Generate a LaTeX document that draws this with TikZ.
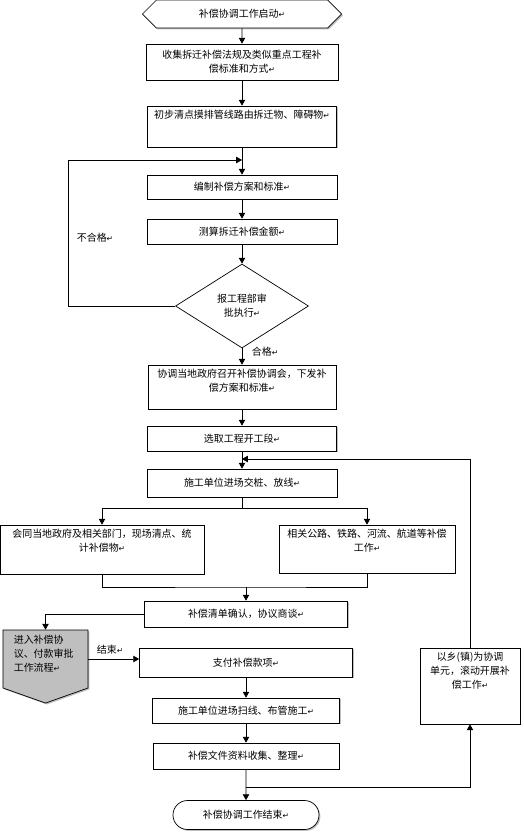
\documentclass[tikz,border=0pt]{standalone}
\usepackage{fontspec}
\newfontfamily\cjk{Noto Sans CJK SC}
\newfontfamily\symfont{DejaVu Sans}
\usetikzlibrary{shapes.geometric,shapes.misc,shapes.symbols,shadows,arrows.meta}
\newcommand\pmark{{\symfont\fontsize{6.5}{6.5}\selectfont ↵}}
\newcommand\toptext[3]{\parbox[c][#1][t]{#2}{\centering\vspace{3.5pt}#3}}

\begin{document}
\begin{tikzpicture}[
	x=0.03cm, y=-0.03cm, line width=0.6pt,
	>={Triangle[length=5pt,width=5.5pt]},
	every node/.style={ font=\cjk\fontsize{8.5}{12}\selectfont },
	box/.style={ draw, fill=white, inner sep=0pt, align=center, drop shadow={shadow xshift=1.2pt, shadow yshift=-1.2pt, fill=black!50} },
	boxh/.style={ box, signal, signal to=west and east, signal pointer angle=90 },
	boxr/.style={ box, rounded rectangle },
	boxd/.style={ draw, fill=white, diamond, inner sep=0pt, align=center },
	boxg/.style={ box, fill=black!25, signal, signal to=south, signal pointer angle=141, inner xsep=0.325cm, inner ysep=0pt }
]
\useasboundingbox (0,0) rectangle (523,834);

\node[boxh, minimum width=5.97cm, minimum height=0.84cm] at (242,14) (start) {补偿协调工作启动\pmark};
\node[box, minimum width=5.76cm, minimum height=1.08cm] at (242,62) (collect) {收集拆迁补偿法规及类似重点工程补\\偿标准和方式\pmark};
\node[box, minimum width=5.67cm] at (242,126.5) (survey) {\toptext{1.23cm}{5.6cm}{初步清点摸排管线路由拆迁物、障碍物\pmark}};
\node[box, minimum width=5.7cm, minimum height=0.72cm] at (242,187) (plan) {编制补偿方案和标准\pmark};
\node[box, minimum width=5.7cm, minimum height=0.75cm] at (242,231.5) (calc) {测算拆迁补偿金额\pmark};
\node[boxd, minimum width=3.99cm, minimum height=2.52cm] at (242,306) (audit) {报工程部审\\批执行\pmark};
\node[box, minimum width=5.64cm] at (242,387) (meeting) {\toptext{1.32cm}{5.6cm}{协调当地政府召开补偿协调会，下发补\\偿方案和标准\pmark}};
\node[box, minimum width=5.67cm, minimum height=0.75cm] at (242,438.5) (section) {选取工程开工段\pmark};
\node[box, minimum width=5.7cm, minimum height=0.84cm] at (242,483) (stake) {施工单位进场交桩、放线\pmark};

\node[box, minimum width=6.12cm] at (102,549.5) (govt) {\toptext{1.47cm}{6cm}{会同当地政府及相关部门，现场清点、统\\计补偿物\pmark}};
\node[box, minimum width=5.28cm] at (367,549) (roads) {\toptext{1.44cm}{5.2cm}{相关公路、铁路、河流、航道等补偿\\工作\pmark}};

\node[box, minimum width=6.09cm, minimum height=0.78cm] at (246,614) (confirm) {补偿清单确认，协议商谈\pmark};
\node[boxg] at (45.5,659) (approval) {\parbox[c][1.74cm][t]{1.9cm}{\raggedright\vspace{4pt}进入补偿协\\议、付款审批\\工作流程\pmark}};
\node[box, minimum width=6.39cm, minimum height=0.87cm] at (246,662.5) (pay) {支付补偿款项\pmark};
\node[box, minimum width=5.61cm, minimum height=0.75cm] at (246,710.5) (pipe) {施工单位进场扫线、布管施工\pmark};
\node[box, minimum width=5.58cm, minimum height=0.78cm] at (246,756) (archive) {补偿文件资料收集、整理\pmark};
\node[boxr, minimum width=4.38cm, minimum height=0.87cm] at (246,815) (finish) {补偿协调工作结束\pmark};
\node[box, minimum width=3cm] at (470,686) (town) {\toptext{2.28cm}{2.9cm}{以乡(镇)为协调\\单元，滚动开展补\\偿工作\pmark}};

\node at (95,238) (fail) {不合格\pmark};
\node at (265,352) (pass) {合格\pmark};
\node at (110,650) (over) {结束\pmark};

\coordinate (back) at (242,160);
\coordinate (join) at (246,587);
\coordinate (loopb) at (246,787);
\coordinate (reentry) at (242,459);

\draw[->] (start) to (collect);
\draw[->] (collect) to (survey);
\draw[->] (survey) to (plan);
\draw[->] (plan) to (calc);
\draw[->] (calc) to (audit);
\draw[->] (audit.west) -- ++(-107,0) |- (back);
\draw[->] (audit) to (meeting);
\draw[->] (meeting) to (section);
\draw[->] (section) to (stake);
\draw[->] (stake.south) -- ++(0,11) coordinate (split) -| (govt.north);
\draw[->] (split) -| (roads.north);
\draw (govt.south) |- (join) -| (roads.south);
\draw[->] (join) to (confirm);
\draw[->] (confirm.west) -| (approval.north);
\draw[->] (approval.east) -- (approval.east -| pay.west);
\foreach \a/\b in {pay/pipe,pipe/archive,archive/finish} \draw[->] (\a) to (\b);
\draw[->] (loopb) -| (town.south);
\draw[->] (town.north) |- (reentry);

\end{tikzpicture}
\end{document}
